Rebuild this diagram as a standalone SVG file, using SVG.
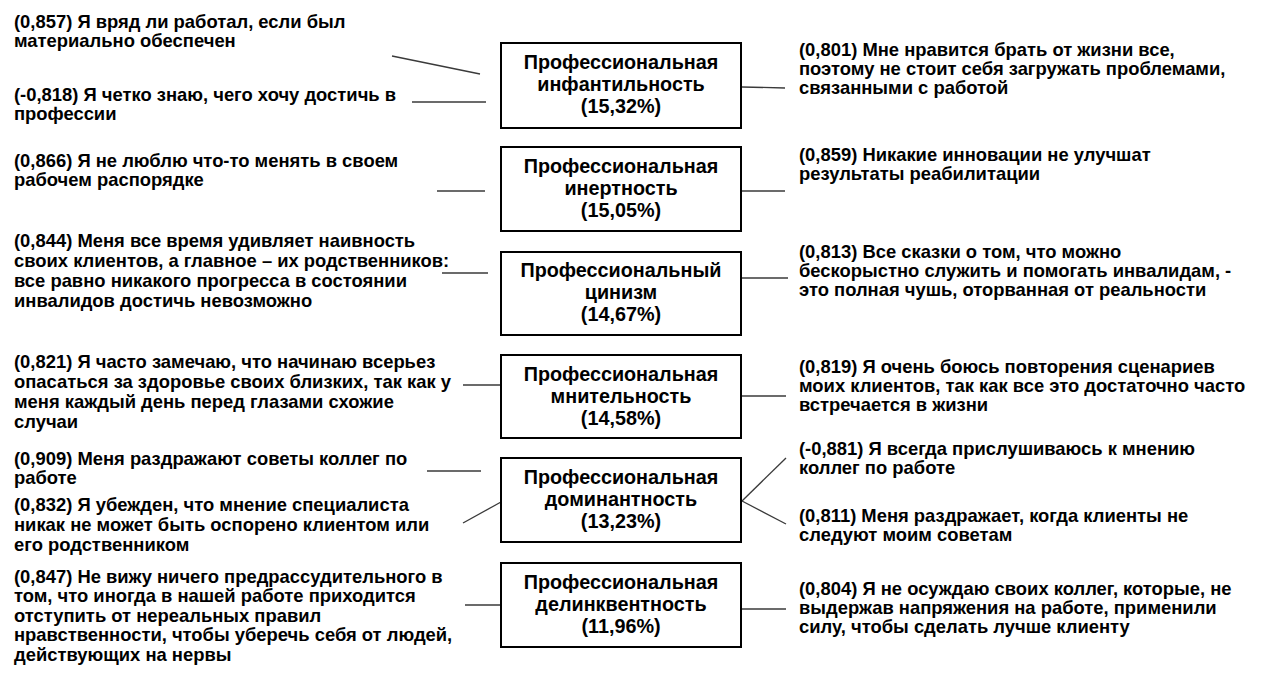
<svg xmlns="http://www.w3.org/2000/svg" width="1265" height="682" viewBox="0 0 1265 682">
<style>
.bg{fill:#ffffff}
.box{fill:#ffffff;stroke:#000000;stroke-width:2}
.bt{font-family:"Liberation Sans",Arial,sans-serif;font-weight:bold;font-size:19.8px;fill:#000000;text-anchor:middle}
.st{font-family:"Liberation Sans",Arial,sans-serif;font-weight:bold;font-size:18.4px;fill:#000000}
.cn{stroke:#3a3a3a;stroke-width:1.3;fill:none}
</style>
<rect class="bg" x="0" y="0" width="1265" height="682"/>

<g id="connectors">
<line class="cn" x1="392" y1="56" x2="480" y2="74"/>
<line class="cn" x1="412" y1="102" x2="486" y2="102"/>
<line class="cn" x1="742" y1="87" x2="785" y2="88"/>
<line class="cn" x1="437" y1="191" x2="485" y2="191"/>
<line class="cn" x1="742" y1="191" x2="785" y2="191"/>
<line class="cn" x1="442" y1="273" x2="488" y2="273"/>
<line class="cn" x1="742" y1="278" x2="788" y2="278"/>
<line class="cn" x1="463" y1="385" x2="502" y2="385"/>
<line class="cn" x1="742" y1="396" x2="786" y2="396"/>
<line class="cn" x1="427" y1="471" x2="481" y2="471"/>
<line class="cn" x1="463" y1="523" x2="501" y2="502"/>
<line class="cn" x1="742" y1="501" x2="786" y2="458"/>
<line class="cn" x1="742" y1="501" x2="786" y2="524"/>
<line class="cn" x1="465" y1="605" x2="502" y2="605"/>
<line class="cn" x1="742" y1="609" x2="786" y2="609"/>
</g>

<g id="node-infantilnost">
<rect class="box" x="501" y="43" width="240" height="85"/>
<text class="bt" x="621" y="69">Профессиональная</text>
<text class="bt" x="621" y="91">инфантильность</text>
<text class="bt" x="621" y="113">(15,32%)</text>
</g>
<g id="node-inertnost">
<rect class="box" x="501" y="147" width="240" height="84"/>
<text class="bt" x="621" y="173">Профессиональная</text>
<text class="bt" x="621" y="195">инертность</text>
<text class="bt" x="621" y="217">(15,05%)</text>
</g>
<g id="node-cinizm">
<rect class="box" x="501" y="252" width="240" height="83"/>
<text class="bt" x="621" y="277">Профессиональный</text>
<text class="bt" x="621" y="299">цинизм</text>
<text class="bt" x="621" y="321">(14,67%)</text>
</g>
<g id="node-mnitelnost">
<rect class="box" x="501" y="355" width="240" height="83"/>
<text class="bt" x="621" y="381">Профессиональная</text>
<text class="bt" x="621" y="403">мнительность</text>
<text class="bt" x="621" y="425">(14,58%)</text>
</g>
<g id="node-dominantnost">
<rect class="box" x="501" y="458" width="240" height="84"/>
<text class="bt" x="621" y="484">Профессиональная</text>
<text class="bt" x="621" y="506">доминантность</text>
<text class="bt" x="621" y="528">(13,23%)</text>
</g>
<g id="node-delinkventnost">
<rect class="box" x="501" y="563" width="240" height="84"/>
<text class="bt" x="621" y="589">Профессиональная</text>
<text class="bt" x="621" y="611">делинквентность</text>
<text class="bt" x="621" y="633">(11,96%)</text>
</g>

<g id="left-items">
<text class="st" x="14" y="28">(0,857) Я вряд ли работал, если был</text>
<text class="st" x="14" y="47">материально обеспечен</text>
<text class="st" x="14" y="101">(-0,818) Я четко знаю, чего хочу достичь в</text>
<text class="st" x="14" y="120">профессии</text>
<text class="st" x="14" y="167">(0,866) Я не люблю что-то менять в своем</text>
<text class="st" x="14" y="186">рабочем распорядке</text>
<text class="st" x="14" y="247">(0,844) Меня все время удивляет наивность</text>
<text class="st" x="14" y="267">своих клиентов, а главное – их родственников:</text>
<text class="st" x="14" y="287">все равно никакого прогресса в состоянии</text>
<text class="st" x="14" y="307">инвалидов достичь невозможно</text>
<text class="st" x="14" y="368">(0,821) Я часто замечаю, что начинаю всерьез</text>
<text class="st" x="14" y="388">опасаться за здоровье своих близких, так как у</text>
<text class="st" x="14" y="408">меня каждый день перед глазами схожие</text>
<text class="st" x="14" y="428">случаи</text>
<text class="st" x="14" y="465">(0,909) Меня раздражают советы коллег по</text>
<text class="st" x="14" y="484">работе</text>
<text class="st" x="14" y="511">(0,832) Я убежден, что мнение специалиста</text>
<text class="st" x="14" y="531">никак не может быть оспорено клиентом или</text>
<text class="st" x="14" y="551">его родственником</text>
<text class="st" x="14" y="583">(0,847) Не вижу ничего предрассудительного в</text>
<text class="st" x="14" y="602">том, что иногда в нашей работе приходится</text>
<text class="st" x="14" y="622">отступить от нереальных правил</text>
<text class="st" x="14" y="641">нравственности, чтобы уберечь себя от людей,</text>
<text class="st" x="14" y="661">действующих на нервы</text>
</g>

<g id="right-items">
<text class="st" x="799" y="56">(0,801) Мне нравится брать от жизни все,</text>
<text class="st" x="799" y="75">поэтому не стоит себя загружать проблемами,</text>
<text class="st" x="799" y="94">связанными с работой</text>
<text class="st" x="799" y="161">(0,859) Никакие инновации не улучшат</text>
<text class="st" x="799" y="180">результаты реабилитации</text>
<text class="st" x="799" y="258">(0,813) Все сказки о том, что можно</text>
<text class="st" x="799" y="277">бескорыстно служить и помогать инвалидам, -</text>
<text class="st" x="799" y="296">это полная чушь, оторванная от реальности</text>
<text class="st" x="799" y="373">(0,819) Я очень боюсь повторения сценариев</text>
<text class="st" x="799" y="392">моих клиентов, так как все это достаточно часто</text>
<text class="st" x="799" y="411">встречается в жизни</text>
<text class="st" x="799" y="455">(-0,881) Я всегда прислушиваюсь к мнению</text>
<text class="st" x="799" y="474">коллег по работе</text>
<text class="st" x="799" y="522">(0,811) Меня раздражает, когда клиенты не</text>
<text class="st" x="799" y="541">следуют моим советам</text>
<text class="st" x="799" y="595">(0,804) Я не осуждаю своих коллег, которые, не</text>
<text class="st" x="799" y="614">выдержав  напряжения на работе, применили</text>
<text class="st" x="799" y="633">силу, чтобы сделать лучше клиенту</text>
</g>
</svg>
